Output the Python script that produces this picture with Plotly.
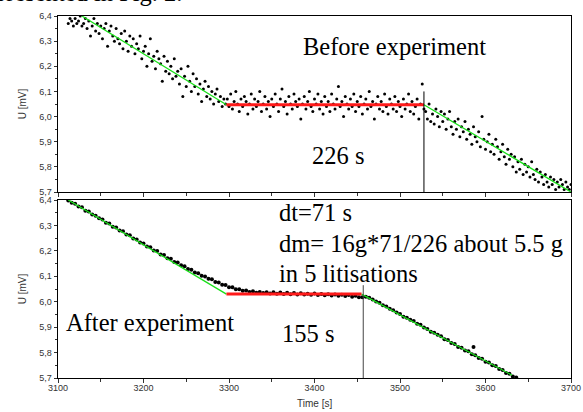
import plotly.graph_objects as go

# ---------------- data ----------------
top_time = [
    3112, 3114, 3116, 3118, 3120, 3122, 3124, 3126, 3128, 3130, 3132, 3134, 3136, 3138, 3140, 3142, 3144, 3146, 3148, 3150,
    3152, 3154, 3156, 3158, 3160, 3162, 3164, 3166, 3168, 3170, 3172, 3174, 3176, 3178, 3180, 3182, 3184, 3186, 3188, 3190,
    3192, 3194, 3196, 3198, 3200, 3202, 3204, 3206, 3208, 3210, 3212, 3214, 3216, 3218, 3220, 3222, 3224, 3226, 3228, 3230,
    3232, 3234, 3236, 3238, 3240, 3242, 3244, 3246, 3248, 3250, 3252, 3254, 3256, 3258, 3260, 3262, 3264, 3266, 3268, 3270,
    3272, 3274, 3276, 3278, 3280, 3282, 3284, 3286, 3288, 3290, 3292, 3294, 3296,
    3298, 3300, 3302, 3304, 3306, 3308, 3310, 3312, 3314, 3316, 3318, 3320, 3322, 3324, 3326, 3328, 3330, 3332, 3334, 3336,
    3338, 3340, 3342, 3344, 3346, 3348, 3350, 3352, 3354, 3356, 3358, 3360, 3362, 3364, 3366, 3368, 3370, 3372, 3374, 3376,
    3378, 3380, 3382, 3384, 3386, 3388, 3390, 3392, 3394, 3396, 3398, 3400, 3402, 3404, 3406, 3408, 3410, 3412, 3414, 3416,
    3418, 3420, 3422, 3424, 3426, 3428, 3430, 3432, 3434, 3436, 3438, 3440, 3442, 3444, 3446, 3448, 3450, 3452, 3454, 3456,
    3458, 3460, 3462, 3464, 3466, 3468, 3470, 3472, 3474, 3476, 3478, 3480, 3482, 3484, 3486, 3488, 3490, 3492, 3494, 3496,
    3498, 3500, 3502, 3504, 3506, 3508, 3510, 3512, 3514, 3516, 3518, 3520, 3522, 3524, 3526, 3528,
    3530, 3532, 3534, 3536, 3538, 3540, 3542, 3544, 3546, 3548, 3550, 3552, 3554, 3556, 3558, 3560, 3562, 3564, 3566, 3568,
    3570, 3572, 3574, 3576, 3578, 3580, 3582, 3584, 3586, 3588, 3590, 3592, 3594, 3596, 3598, 3600, 3602, 3604, 3606, 3608,
    3610, 3612, 3614, 3616, 3618, 3620, 3622, 3624, 3626, 3628, 3630, 3632, 3634, 3636, 3638, 3640, 3642, 3644, 3646, 3648,
    3650, 3652, 3654, 3656, 3658, 3660, 3662, 3664, 3666, 3668, 3670, 3672, 3674, 3676, 3678, 3680, 3682, 3684, 3686, 3688,
    3690, 3692, 3694, 3696, 3698, 3700,
]
top_u = [
    6.37, 6.39, 6.38, 6.36, 6.39, 6.37, 6.38, 6.40, 6.36, 6.37, 6.39, 6.35, 6.38, 6.32, 6.36, 6.39, 6.34, 6.37, 6.33, 6.36,
    6.31, 6.35, 6.37, 6.28, 6.34, 6.36, 6.32, 6.30, 6.35, 6.31, 6.29, 6.33, 6.27, 6.34, 6.30, 6.26, 6.32, 6.28, 6.31, 6.25,
    6.29, 6.27, 6.32, 6.23, 6.26, 6.28, 6.20, 6.25, 6.31, 6.22, 6.24, 6.19, 6.26, 6.23, 6.21, 6.14, 6.24, 6.18, 6.22, 6.17,
    6.20, 6.15, 6.23, 6.16, 6.18, 6.13, 6.19, 6.08, 6.16, 6.12, 6.20, 6.14, 6.10, 6.17, 6.12, 6.15, 6.09, 6.13, 6.06, 6.11,
    6.14, 6.08, 6.12, 6.07, 6.10, 6.05, 6.09, 6.11, 6.06, 6.08, 6.04, 6.07, 6.05,
    6.07, 6.04, 6.09, 6.03, 6.06, 6.10, 6.05, 6.02, 6.07, 6.04, 6.08, 6.06, 6.01, 6.05, 6.09, 6.03, 6.07, 6.04, 6.06, 6.10,
    6.02, 6.05, 6.08, 6.03, 6.06, 6.00, 6.07, 6.04, 6.09, 6.05, 6.02, 6.07, 6.11, 6.04, 6.06, 6.01, 6.08, 6.05, 6.03, 6.09,
    6.06, 6.04, 6.07, 5.99, 6.05, 6.08, 6.03, 6.06, 6.10, 6.04, 6.02, 6.07, 6.05, 6.09, 6.03, 6.06, 6.01, 6.08, 6.04, 6.06,
    6.02, 6.09, 6.05, 6.03, 6.07, 6.12, 6.04, 6.06, 6.00, 6.08, 6.05, 6.03, 6.07, 6.04, 6.09, 6.02, 6.06, 6.04, 6.08, 6.01,
    6.05, 6.07, 6.03, 6.10, 6.04, 6.06, 5.99, 6.05, 6.08, 6.03, 6.06, 6.02, 6.09, 6.04, 6.01, 6.07, 6.05, 6.03, 6.08, 6.02,
    6.06, 6.04, 6.00, 6.07, 6.03, 6.05, 6.09, 6.02, 6.06, 6.01, 6.04, 6.07, 5.99, 6.05, 6.13, 6.03,
    6.02, 5.99, 6.05, 5.98, 6.01, 5.97, 6.03, 6.00, 5.96, 6.02, 5.98, 6.01, 5.95, 5.99, 6.02, 5.96, 5.93, 5.98, 5.95, 5.99,
    5.92, 5.96, 5.94, 5.98, 5.91, 5.95, 5.93, 5.89, 5.96, 5.92, 5.90, 5.94, 5.88, 6.00, 5.91, 5.87, 5.90, 5.93, 5.86, 5.89,
    5.85, 5.91, 5.88, 5.83, 5.86, 5.89, 5.84, 5.81, 5.87, 5.83, 5.85, 5.80, 5.84, 5.78, 5.82, 5.79, 5.83, 5.77, 5.81, 5.78,
    5.80, 5.76, 5.82, 5.77, 5.75, 5.79, 5.74, 5.78, 5.76, 5.73, 5.77, 5.74, 5.72, 5.76, 5.73, 5.75, 5.71, 5.74, 5.72, 5.75,
    5.73, 5.71, 5.74, 5.72, 5.71, 5.73,
]

bottom_time = [
    3112, 3116, 3120, 3124, 3128, 3132, 3136, 3140, 3144, 3148, 3152, 3156, 3160, 3164, 3168, 3172, 3176, 3180, 3184, 3188,
    3192, 3196, 3200, 3204, 3208, 3212, 3216, 3220, 3224, 3228, 3232, 3236, 3240, 3244, 3248, 3252, 3256, 3260, 3264, 3268,
    3272, 3276, 3280, 3284, 3288, 3292, 3296, 3300, 3304, 3308, 3312, 3316, 3320, 3324, 3328, 3332, 3336, 3340, 3344, 3348,
    3352, 3356, 3360, 3364, 3368, 3372, 3376, 3380, 3384, 3388, 3392, 3396, 3400, 3404, 3408, 3412, 3416, 3420, 3424, 3428,
    3432, 3436, 3440, 3444, 3448, 3452, 3456, 3460, 3464, 3468, 3472, 3476, 3480, 3484, 3488, 3492, 3496, 3500, 3504, 3508,
    3512, 3516, 3520, 3524, 3528, 3532, 3536, 3540, 3544, 3548, 3552, 3556, 3560, 3564, 3568, 3572, 3576, 3580, 3584, 3586,
    3588, 3592, 3596, 3600, 3604, 3608, 3612, 3616, 3620, 3624, 3628, 3632, 3636,
]
bottom_u = [
    6.398, 6.389, 6.385, 6.374, 6.371, 6.358, 6.355, 6.343, 6.338, 6.328, 6.323, 6.311, 6.308, 6.295, 6.292, 6.280, 6.277, 6.264, 6.261, 6.249,
    6.245, 6.233, 6.229, 6.217, 6.214, 6.201, 6.199, 6.186, 6.184, 6.171, 6.169, 6.156, 6.154, 6.143, 6.139, 6.129, 6.126, 6.115, 6.112, 6.102,
    6.099, 6.090, 6.088, 6.078, 6.076, 6.067, 6.066, 6.057, 6.057, 6.049, 6.049, 6.043, 6.044, 6.038, 6.041, 6.035, 6.038, 6.034, 6.037, 6.032,
    6.037, 6.031, 6.036, 6.030, 6.035, 6.029, 6.034, 6.028, 6.033, 6.028, 6.031, 6.027, 6.032, 6.026, 6.030, 6.025, 6.029, 6.024, 6.028, 6.023,
    6.027, 6.022, 6.026, 6.020, 6.023, 6.018, 6.018, 6.020, 6.016, 6.009, 6.001, 5.996, 5.986, 5.981, 5.972, 5.966, 5.958, 5.952, 5.941, 5.937,
    5.929, 5.924, 5.913, 5.909, 5.899, 5.893, 5.882, 5.878, 5.870, 5.864, 5.852, 5.849, 5.838, 5.834, 5.822, 5.819, 5.808, 5.805, 5.793, 5.822,
    5.789, 5.779, 5.776, 5.764, 5.761, 5.750, 5.747, 5.735, 5.731, 5.720, 5.717, 5.706, 5.702,
]

# fitted lines (start/end points)
top_fit1_t, top_fit1_u = [3128, 3297], [6.40, 6.047]
top_flat_t, top_flat_u = [3297, 3528], [6.047, 6.047]
top_fit2_t, top_fit2_u = [3528, 3700], [6.047, 5.70]
top_mark_t, top_mark_u = [3528, 3528], [6.10, 5.70]

bot_fit1_t, bot_fit1_u = [3112, 3297], [6.40, 6.030]
bot_flat_t, bot_flat_u = [3297, 3455], [6.030, 6.030]
bot_fit2_t, bot_fit2_u = [3455, 3631], [6.030, 5.711]
bot_mark_t, bot_mark_u = [3457, 3457], [6.065, 5.70]

x_range = [3100, 3700]
y_range = [5.7, 6.4]

GREEN = "#19e019"
RED = "#ff1a1a"
SERIF = "Liberation Serif, Times New Roman, serif"
SANS = "Liberation Sans, Arial, sans-serif"

fig = go.Figure()

# top panel (x2, y2)
fig.add_trace(go.Scatter(x=top_time, y=top_u, mode="markers", xaxis="x2", yaxis="y2",
                         marker=dict(size=3, color="black"), showlegend=False))
for tx, ty, col, w in [(top_fit1_t, top_fit1_u, GREEN, 1.3), (top_fit2_t, top_fit2_u, GREEN, 1.3),
                       (top_flat_t, top_flat_u, RED, 3), (top_mark_t, top_mark_u, "black", 1)]:
    fig.add_trace(go.Scatter(x=tx, y=ty, mode="lines", xaxis="x2", yaxis="y2",
                             line=dict(color=col, width=w), showlegend=False))

# bottom panel (x, y)
fig.add_trace(go.Scatter(x=bottom_time, y=bottom_u, mode="markers", xaxis="x", yaxis="y",
                         marker=dict(size=4, color="black"), showlegend=False))
for tx, ty, col, w in [(bot_fit1_t, bot_fit1_u, GREEN, 1.3), (bot_fit2_t, bot_fit2_u, GREEN, 1.3),
                       (bot_flat_t, bot_flat_u, RED, 3), (bot_mark_t, bot_mark_u, "#444444", 1)]:
    fig.add_trace(go.Scatter(x=tx, y=ty, mode="lines", xaxis="x", yaxis="y",
                             line=dict(color=col, width=w), showlegend=False))

common_x = dict(range=x_range, showgrid=False, zeroline=False, showline=True, linecolor="black",
                linewidth=1, mirror=True, ticks="outside", ticklen=4, tickwidth=1, tickcolor="#333",
                dtick=100, tick0=3100, automargin=False,
                minor=dict(ticks="outside", ticklen=2.5, dtick=50, tickcolor="#333"),
                tickfont=dict(family=SANS, size=9, color="#333"))
common_y = dict(range=y_range, showgrid=False, zeroline=False, showline=True, linecolor="black",
                linewidth=1, mirror=True, ticks="outside", ticklen=3.5, tickwidth=1, tickcolor="#333",
                dtick=0.1, tick0=5.7, tickformat=".1f", automargin=False,
                minor=dict(ticks="outside", ticklen=2.5, dtick=0.05, tickcolor="#333"),
                tickfont=dict(family=SANS, size=9, color="#333"),
                title=dict(text="U [mV]", font=dict(family=SANS, size=10, color="#333"), standoff=10))

top_lo = (378 - 192) / 362
bot_hi = (378 - 200) / 362

fig.update_layout(
    width=583, height=412,
    margin=dict(l=58, r=12, t=16, b=34),
    paper_bgcolor="white", plot_bgcolor="white",
    separators=", ",
    xaxis=dict(common_x, anchor="y", domain=[0, 1], ticklabelstandoff=-3),
    xaxis2=dict(common_x, anchor="y2", domain=[0, 1], matches="x", showticklabels=False),
    yaxis=dict(common_y, anchor="x", domain=[0, bot_hi]),
    yaxis2=dict(common_y, anchor="x2", domain=[top_lo, 1]),
)

def note(text, x, y, xref, yref, size=24.5, xanchor="left", yanchor="middle", family=SERIF, color="black"):
    fig.add_annotation(text=text, x=x, y=y, xref=xref, yref=yref, showarrow=False,
                       xanchor=xanchor, yanchor=yanchor,
                       font=dict(family=family, size=size, color=color))

note("Before experiment", 3384, 6.279, "x2", "y2")
note("226 s", 3395, 5.846, "x2", "y2")
note("dt=71 s", 3356, 6.351, "x", "y")
note("dm= 16g*71/226 about 5.5 g", 3356, 6.230, "x", "y")
note("in 5 litisations", 3356, 6.112, "x", "y")
note("155 s", 3360, 5.875, "x", "y")
note("After experiment", 3107, 5.918, "x", "y")
# x-axis title
note("Time [s]", 0.5, -(403 - 378) / 362, "paper", "paper", size=10, xanchor="center",
     family=SANS, color="#333")
# clipped document text above the figure
note("presented in Fig. 2.", (185 - 58) / 513, (378 - 8) / 362, "paper", "paper",
     xanchor="right", yanchor="bottom")

fig.write_html("out.html")
